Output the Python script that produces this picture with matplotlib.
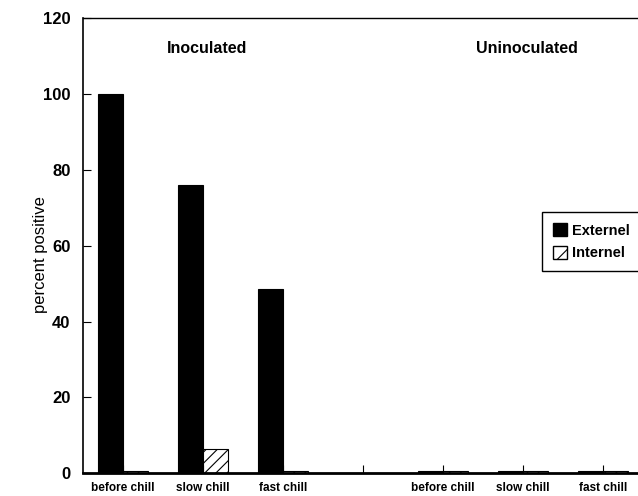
import numpy as np
import matplotlib
matplotlib.use('Agg')
import matplotlib.pyplot as plt
from matplotlib.patches import Patch

# data
categories = ['before chill', 'slow chill', 'fast chill', '',
              'before chill', 'slow chill', 'fast chill']
external = [100, 76, 48.5, 0, 0.6, 0.5, 0.6]
internal = [0.5, 6.5, 0.5, 0, 0.5, 0.5, 0.5]
group_labels = ['Inoculated', 'Uninoculated']

plt.rcParams['font.family'] = ['Liberation Sans', 'DejaVu Sans']
plt.rcParams['hatch.linewidth'] = 0.8

fig = plt.figure(figsize=(6.38, 4.96), dpi=100)
ax = fig.add_axes([0.130, 0.046, 0.878, 0.917])

x = np.arange(len(categories))
w = 0.31
ax.bar(x - w, external, width=w, align='edge', color='black',
       edgecolor='black', linewidth=0.8)
ax.bar(x, internal, width=w, align='edge', color='white',
       edgecolor='black', linewidth=0.8, hatch='///')

ax.set_xlim(-0.5, 6.5)
ax.set_ylim(0, 120)
ax.set_yticks(range(0, 121, 20))
ax.set_xticks(x)
ax.set_xticklabels(categories, fontsize=8.5, fontweight='bold')
for lab in ax.get_yticklabels():
    lab.set_fontweight('bold')
    lab.set_fontsize(12)
ax.tick_params(axis='y', direction='in', length=6, pad=9)
ax.tick_params(axis='x', direction='in', length=6, pad=6)

ax.spines['right'].set_visible(False)
ax.spines['bottom'].set_linewidth(2)
ax.spines['left'].set_linewidth(1.2)
ax.spines['top'].set_linewidth(1)

ax.set_ylabel('percent positive', fontsize=12)
ax.yaxis.set_label_coords(-0.062, 0.48)

ax.text(1.05, 112, group_labels[0], ha='center', va='center',
        fontsize=11.5, fontweight='bold')
ax.text(5.05, 112, group_labels[1], ha='center', va='center',
        fontsize=11.5, fontweight='bold')

handles = [Patch(facecolor='black', edgecolor='black', label='Externel'),
           Patch(facecolor='white', edgecolor='black', hatch='//', label='Internel')]
leg = fig.legend(handles=handles, loc='upper left', bbox_to_anchor=(0.849, 0.572),
                 fancybox=False, edgecolor='black', framealpha=1,
                 prop={'weight': 'bold', 'size': 10.5},
                 handlelength=1.0, handleheight=1.0, handletextpad=0.3,
                 borderpad=0.75, labelspacing=0.55, borderaxespad=0)
leg.get_frame().set_linewidth(1)

plt.savefig('out.png', dpi=100)
